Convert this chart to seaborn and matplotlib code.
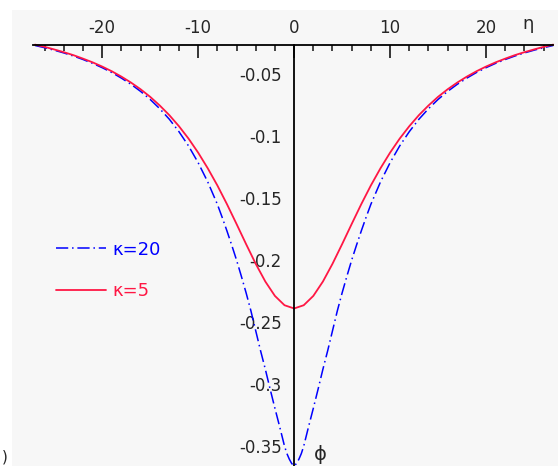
import matplotlib
matplotlib.use("Agg")
import matplotlib.pyplot as plt
import seaborn as sns
from matplotlib.ticker import FuncFormatter

# datos (eta, phi), curva kappa=20
eta_k20 = [-27, -26, -25, -24, -23, -22, -21, -20, -19, -18, -17, -16, -15, -14, -13, -12, -11, -10, -9, -8,
           -7.5, -7, -6.5, -6, -5.5, -5, -4.5, -4, -3.5, -3, -2.5, -2, -1.5, -1, -0.75, -0.5, -0.25, 0,
           0.25, 0.5, 0.75, 1, 1.5, 2, 2.5, 3, 3.5, 4, 4.5, 5, 5.5, 6, 6.5, 7, 7.5,
           8, 9, 10, 11, 12, 13, 14, 15, 16, 17, 18, 19, 20, 21, 22, 23, 24, 25, 26, 27]
phi_k20 = [-0.0270, -0.0288, -0.0308, -0.0330, -0.0355, -0.0383, -0.0414, -0.0449, -0.0488, -0.0533, -0.0583,
           -0.0640, -0.0705, -0.0780, -0.0865, -0.0965, -0.1080, -0.1215, -0.1370, -0.1550,
           -0.1655, -0.1765, -0.1880, -0.2000, -0.2130, -0.2265, -0.2410, -0.2570, -0.2730, -0.2880, -0.3040,
           -0.3195, -0.3345, -0.3500, -0.3560, -0.3605, -0.3640, -0.3660,
           -0.3640, -0.3605, -0.3560, -0.3500, -0.3345, -0.3195, -0.3040, -0.2880, -0.2730, -0.2570, -0.2410,
           -0.2265, -0.2130, -0.2000, -0.1880, -0.1765, -0.1655,
           -0.1550, -0.1370, -0.1215, -0.1080, -0.0965, -0.0865, -0.0780, -0.0705, -0.0640, -0.0583, -0.0533,
           -0.0488, -0.0449, -0.0414, -0.0383, -0.0355, -0.0330, -0.0308, -0.0288, -0.0270]

# curva kappa=5
eta_k5 = [-27, -26, -25, -24, -23, -22, -21, -20, -19, -18, -17, -16, -15, -14, -13, -12, -11, -10, -9, -8,
          -7, -6, -5, -4, -3, -2, -1, 0, 1, 2, 3, 4, 5, 6, 7,
          8, 9, 10, 11, 12, 13, 14, 15, 16, 17, 18, 19, 20, 21, 22, 23, 24, 25, 26, 27]
phi_k5 = [-0.0263, -0.0281, -0.0302, -0.0324, -0.0348, -0.0376, -0.0406, -0.0440, -0.0478, -0.0521, -0.0569,
          -0.0623, -0.0684, -0.0754, -0.0832, -0.0921, -0.1021, -0.1134, -0.1260, -0.1398,
          -0.1549, -0.1709, -0.1872, -0.2030, -0.2173, -0.2289, -0.2364, -0.2390, -0.2364, -0.2289, -0.2173,
          -0.2030, -0.1872, -0.1709, -0.1549,
          -0.1398, -0.1260, -0.1134, -0.1021, -0.0921, -0.0832, -0.0754, -0.0684, -0.0623, -0.0569, -0.0521,
          -0.0478, -0.0440, -0.0406, -0.0376, -0.0348, -0.0324, -0.0302, -0.0281, -0.0263]

etiquetas = ["κ=20", "κ=5"]
colores = ["#0000ff", "#ff1744"]
xticks_mayores = [-20, -10, 0, 10, 20]
yticks_mayores = [-0.05, -0.1, -0.15, -0.2, -0.25, -0.3, -0.35]

sns.set_style("white")
plt.rcParams["font.family"] = ["DejaVu Sans"]
plt.rcParams["axes.unicode_minus"] = False

fig = plt.figure(figsize=(5.58, 4.66), dpi=100)
ax = fig.add_axes([12 / 558, 0, 546 / 558, 456 / 466])
ax.set_facecolor("#f7f7f7")

sns.lineplot(x=eta_k20, y=phi_k20, ax=ax, color=colores[0], linewidth=1.1,
             linestyle=(0, (8, 2.5, 1, 2.5)), label=etiquetas[0], sort=False)
sns.lineplot(x=eta_k5, y=phi_k5, ax=ax, color=colores[1], linewidth=1.3,
             label=etiquetas[1], sort=False)

ax.set_xlim(-29.4, 27.5)
ax.set_ylim(-0.366, 0.0016)

# ejes estilo Maple: se cruzan en (0, tope de la curva)
y_top = -0.0266
ax.spines["right"].set_visible(False)
ax.spines["bottom"].set_visible(False)
ax.spines["top"].set_position(("data", y_top))
ax.spines["top"].set_bounds(-27.2, 27.0)
ax.spines["left"].set_position(("data", 0))
ax.spines["left"].set_bounds(-0.37, y_top)
for s in ["top", "left"]:
    ax.spines[s].set_color("black")
    ax.spines[s].set_linewidth(1.3)

ax.xaxis.set_ticks_position("top")
ax.set_xticks(xticks_mayores)
ax.set_xticks(list(range(-26, 27, 2)), minor=True)
ax.set_yticks(yticks_mayores)
ax.set_yticks([-0.01 * k for k in range(3, 37)], minor=True)
ax.yaxis.set_major_formatter(FuncFormatter(lambda v, _: f"{v:g}"))
ax.xaxis.set_major_formatter(FuncFormatter(lambda v, _: f"{v:g}"))

ax.tick_params(axis="x", which="major", direction="in", length=9, width=1.3, pad=6, labelsize=12)
ax.tick_params(axis="x", which="minor", direction="in", length=4.5, width=1.2)
ax.tick_params(axis="y", which="major", direction="in", length=8, width=1.3, pad=9, labelsize=12)
ax.tick_params(axis="y", which="minor", direction="in", length=3.5, width=1.2)

ax.set_xlabel("")
ax.set_ylabel("")
ax.text(0.945, 0.969, "η", transform=ax.transAxes, fontsize=13, ha="center", va="center")
ax.text(2.7, -0.357, "ϕ", fontsize=14, ha="center", va="center")

ax.legend(loc="upper left", bbox_to_anchor=(0.05, 0.53), frameon=False,
          fontsize=13, handlelength=2.8, handletextpad=0.35, labelspacing=1.3,
          labelcolor="linecolor")

# resto de la etiqueta del panel, en la esquina inferior izquierda
fig.text(0.004, 0.004, ")", fontsize=11, ha="left", va="bottom")

fig.savefig("out.png", dpi=100)
